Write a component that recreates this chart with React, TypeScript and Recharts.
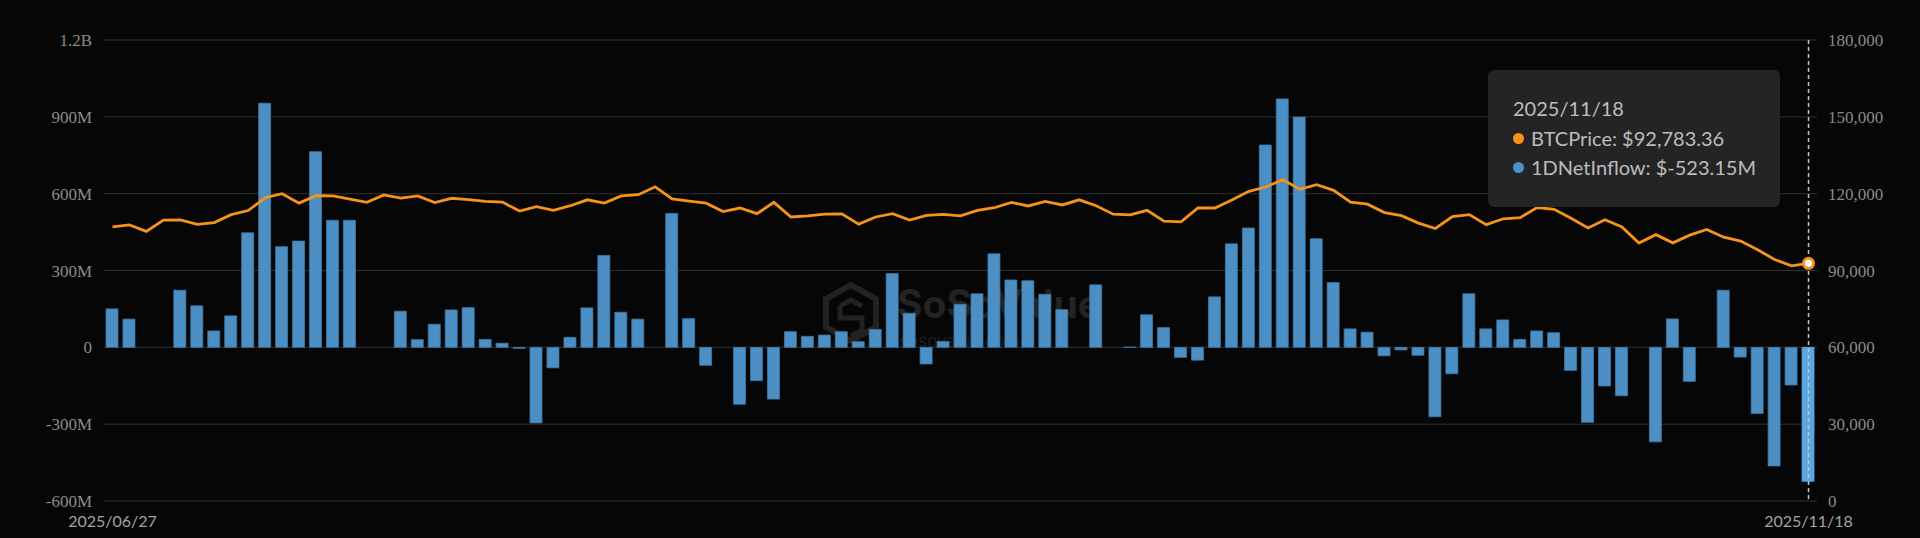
import React from "react";
import {
  Bar,
  CartesianGrid,
  ComposedChart,
  Line,
  Tooltip,
  XAxis,
  YAxis,
} from "recharts";

// 일자별 BTC 가격 / 1일 순유입 (trading days only)
const dates = [
  "2025/06/27", "2025/06/30", "2025/07/01", "2025/07/02", "2025/07/03",
  "2025/07/07", "2025/07/08", "2025/07/09", "2025/07/10", "2025/07/11",
  "2025/07/14", "2025/07/15", "2025/07/16", "2025/07/17", "2025/07/18",
  "2025/07/21", "2025/07/22", "2025/07/23", "2025/07/24", "2025/07/25",
  "2025/07/28", "2025/07/29", "2025/07/30", "2025/07/31", "2025/08/01",
  "2025/08/04", "2025/08/05", "2025/08/06", "2025/08/07", "2025/08/08",
  "2025/08/11", "2025/08/12", "2025/08/13", "2025/08/14", "2025/08/15",
  "2025/08/18", "2025/08/19", "2025/08/20", "2025/08/21", "2025/08/22",
  "2025/08/25", "2025/08/26", "2025/08/27", "2025/08/28", "2025/08/29",
  "2025/09/02", "2025/09/03", "2025/09/04", "2025/09/05", "2025/09/08",
  "2025/09/09", "2025/09/10", "2025/09/11", "2025/09/12", "2025/09/15",
  "2025/09/16", "2025/09/17", "2025/09/18", "2025/09/19", "2025/09/22",
  "2025/09/23", "2025/09/24", "2025/09/25", "2025/09/26", "2025/09/29",
  "2025/09/30", "2025/10/01", "2025/10/02", "2025/10/03", "2025/10/06",
  "2025/10/07", "2025/10/08", "2025/10/09", "2025/10/10", "2025/10/13",
  "2025/10/14", "2025/10/15", "2025/10/16", "2025/10/17", "2025/10/20",
  "2025/10/21", "2025/10/22", "2025/10/23", "2025/10/24", "2025/10/27",
  "2025/10/28", "2025/10/29", "2025/10/30", "2025/10/31", "2025/11/03",
  "2025/11/04", "2025/11/05", "2025/11/06", "2025/11/07", "2025/11/10",
  "2025/11/11", "2025/11/12", "2025/11/13", "2025/11/14", "2025/11/17",
  "2025/11/18",
];

const btcPrice = [
  107000, 107800, 105300, 109700, 109800, 108000, 108700, 111800, 113400, 118400,
  120000, 116300, 119200, 119100, 117900, 116600, 119500, 118300, 119100, 116500,
  118200, 117700, 117000, 116700, 113200, 114900, 113500, 115300, 117600, 116300,
  119100, 119600, 122700, 118000, 117100, 116300, 113000, 114400, 112200, 116600,
  110900, 111300, 112000, 112100, 108100, 110900, 112200, 109700, 111500, 111900,
  111300, 113500, 114500, 116600, 115200, 117000, 115600, 117600, 115300, 112000,
  111700, 113500, 109300, 109000, 114400, 114400, 117500, 120900, 122600, 125500,
  121700, 123500, 121300, 116700, 115900, 112600, 111400, 108500, 106400, 111000,
  111800, 107900, 110200, 110600, 114600, 113900, 110400, 106600, 109800, 107000,
  100700, 104000, 100800, 103800, 106000, 103000, 101500, 98100, 94300, 91800,
  92783.36,
];

// 단위: 백만 달러
const netInflow = [
  150, 110, 0, 0, 223, 162, 64, 123, 447, 953,
  393, 415, 764, 496, 496, 0, 0, 141, 30, 90,
  146, 155, 31, 16, -4, -295, -80, 39, 154, 359,
  137, 110, 0, 523, 112, -70, 0, -222, -130, -202,
  61, 43, 48, 61, 22, 70, 288, 133, -65, 23,
  168, 209, 365, 263, 260, 207, 147, 0, 244, 0,
  1, 127, 77, -39, -50, 197, 404, 466, 790, 970,
  899, 424, 253, 72, 59, -33, -10, -31, -271, -103,
  209, 72, 107, 31, 64, 57, -90, -293, -151, -189,
  0, -369, 111, -133, 0, 223, -38, -258, -463, -147,
  -523.15,
];

const inflowTicks = [-600, -300, 0, 300, 600, 900, 1200];
const priceTicks = [0, 30000, 60000, 90000, 120000, 150000, 180000];
const dateTicks = [dates[0], dates[dates.length - 1]];

const data = dates.map((date, i) => ({
  date,
  btcPrice: btcPrice[i],
  netInflow: netInflow[i],
}));

const ORANGE = "#f7931a";
const BLUE = "#4b8fc5";

const fmtInflow = (v: number) =>
  v === 0 ? "0" : Math.abs(v) >= 1000 ? `${v / 1000}B` : `${v}M`;

function FlowTooltip({ active, payload, label }: any) {
  if (!active || !payload || payload.length === 0) return null;
  const price = payload.find((p: any) => p.dataKey === "btcPrice");
  const flow = payload.find((p: any) => p.dataKey === "netInflow");
  const dot = (c: string) => (
    <span
      style={{
        display: "inline-block",
        width: 11,
        height: 11,
        borderRadius: "50%",
        background: c,
        marginRight: 7,
        verticalAlign: "middle",
        position: "relative",
        top: -2,
      }}
    />
  );
  return (
    <div
      style={{
        background: "#242424",
        borderRadius: 6,
        padding: "24px 24px 24px 25px",
        fontFamily: "Lato, 'Open Sans', sans-serif",
        fontSize: 20,
        lineHeight: "29.5px",
        color: "#bdbdbd",
        whiteSpace: "nowrap",
      }}
    >
      <div>{label}</div>
      {price && (
        <div>
          {dot(ORANGE)}BTCPrice: $
          {Number(price.value).toLocaleString("en-US", {
            minimumFractionDigits: 2,
            maximumFractionDigits: 2,
          })}
        </div>
      )}
      {flow && (
        <div>
          {dot(BLUE)}1DNetInflow: ${Number(flow.value).toFixed(2)}M
        </div>
      )}
    </div>
  );
}

// 배경 워터마크
function Watermark() {
  return (
    <svg
      width={1920}
      height={538}
      style={{ position: "absolute", left: 0, top: 0 }}
    >
      <polygon
        points="851,285 876,299 876,327 851,341 826,327 826,299"
        fill="none"
        stroke="#222222"
        strokeWidth={6}
      />
      <path
        d="M840,306 L851,300 L862,306 M840,306 L840,318 L862,318 L862,330 L851,336"
        fill="none"
        stroke="#222222"
        strokeWidth={5}
      />
      <text
        x={897}
        y={318}
        fontFamily="Inter, sans-serif"
        fontWeight={700}
        fontSize={39}
        fill="#232323"
      >
        SoSoValue
      </text>
      <text
        x={899}
        y={347}
        fontFamily="Inter, sans-serif"
        fontSize={17}
        fill="#1d1d1d"
      >
        sosovalue.com
      </text>
    </svg>
  );
}

export default function App() {
  return (
    <div
      style={{
        position: "fixed",
        left: 0,
        top: 0,
        width: 1920,
        height: 538,
        background: "#060606",
        overflow: "hidden",
      }}
    >
      <Watermark />
      <ComposedChart
        width={1920}
        height={538}
        data={data}
        margin={{ top: 40, right: 0, bottom: 7, left: 0 }}
      >
        <CartesianGrid
          yAxisId="left"
          vertical={false}
          stroke="#303030"
          strokeWidth={1}
        />
        <XAxis
          dataKey="date"
          ticks={dateTicks}
          interval={0}
          axisLine={false}
          tickLine={false}
          height={30}
          tickMargin={9}
          tick={{ fill: "#a3a3a3", fontSize: 16, fontFamily: "Lato, sans-serif" }}
        />
        <YAxis
          yAxisId="left"
          orientation="left"
          width={104}
          domain={[-600, 1200]}
          ticks={inflowTicks}
          interval={0}
          axisLine={false}
          tickLine={false}
          tickMargin={6}
          tickFormatter={fmtInflow}
          tick={{ fill: "#8b8b8b", fontSize: 17, fontFamily: "'Liberation Serif', serif" }}
        />
        <YAxis
          yAxisId="right"
          orientation="right"
          width={103}
          domain={[0, 180000]}
          ticks={priceTicks}
          interval={0}
          axisLine={false}
          tickLine={false}
          tickMargin={5}
          tickFormatter={(v: number) => v.toLocaleString("en-US")}
          tick={{ fill: "#8b8b8b", fontSize: 17, fontFamily: "'Liberation Serif', serif" }}
        />
        <Tooltip
          content={<FlowTooltip />}
          active
          defaultIndex={100}
          position={{ x: 1488, y: 70 }}
          isAnimationActive={false}
          wrapperStyle={{ outline: "none" }}
          cursor={{ stroke: "#c4c4c4", strokeWidth: 1.5, strokeDasharray: "4 3" }}
        />
        <Bar
          yAxisId="left"
          dataKey="netInflow"
          name="1DNetInflow"
          fill={BLUE}
          stroke="#3f7aa8"
          strokeWidth={0.8}
          barSize={12}
          activeBar={{ fill: "#5aa6e0", stroke: "#5aa6e0" }}
          isAnimationActive={false}
        />
        <Line
          yAxisId="right"
          type="linear"
          dataKey="btcPrice"
          name="BTCPrice"
          stroke={ORANGE}
          strokeWidth={2.8}
          dot={false}
          activeDot={{ r: 5, fill: "#ffffff", stroke: ORANGE, strokeWidth: 3 }}
          isAnimationActive={false}
        />
      </ComposedChart>
    </div>
  );
}
